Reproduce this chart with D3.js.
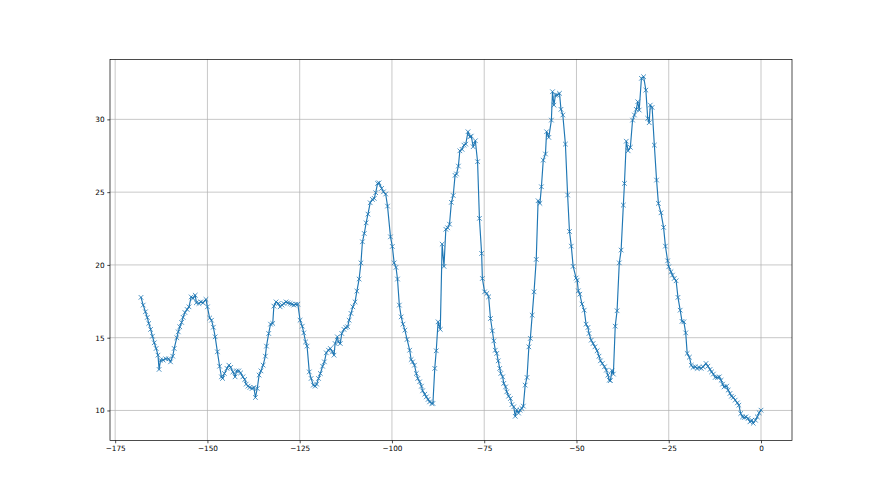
<!DOCTYPE html>
<html><head><meta charset="utf-8">
<script src="https://cdn.jsdelivr.net/npm/d3@7"></script>
<style>html,body{margin:0;padding:0;background:#fff}svg{display:block}</style>
</head><body><svg id="chart" width="880" height="495"></svg>
<script>
const hours = [
-168.0,-167.4,-166.8,-166.3,-165.9,-165.4,-164.9,-164.4,-163.9,-163.4,-163.1,-162.7,-162.0,-161.3,-160.5,-160.0,-159.4,-159.0,-158.3,-157.9,-157.5,-157.0,-156.6,-156.1,-155.5,-155.0,-154.4,-153.9,-153.3,-153.0,-152.3,-151.8,-151.2,-150.4,-150.0,
-149.4,-148.9,-148.4,-147.9,-147.3,-146.7,-146.2,-145.9,-145.4,-144.7,-144.2,-143.7,-143.1,-142.5,-142.1,-141.5,-141.0,-140.4,-139.9,-139.5,-139.0,-138.5,-137.9,-137.4,-137.0,-136.5,-136.0,-135.5,-134.9,-134.3,-134.0,-133.4,-132.9,-132.3,-132.0,-131.4,-130.8,-130.3,-129.8,-129.3,-128.7,-128.2,-127.6,-127.1,-126.6,-126.0,-125.5,
-124.9,-124.3,-123.9,-123.4,-123.0,-122.4,-121.9,-121.3,-120.8,-120.4,-119.9,-119.4,-118.8,-118.3,-117.8,-117.2,-116.7,-116.1,-115.7,-115.4,-114.8,-114.5,-114.0,-113.6,-113.0,-112.5,-112.0,-111.6,-111.1,-110.6,-110.0,-109.5,-108.9,
-108.4,-108.0,-107.5,-107.0,-106.5,-105.9,-105.3,-104.8,-104.4,-103.9,-103.5,-102.8,-102.3,-101.7,-101.2,-100.4,-99.9,-99.4,-98.9,-98.5,-98.0,-97.5,-97.0,-96.5,-95.9,-95.2,-94.8,-94.4,-93.9,-93.4,-93.0,-92.5,-92.0,-91.7,-91.1,-90.7,-90.2,-89.8,-89.2,-88.9,-88.4,-88.0,-87.5,-86.9,-86.4,-85.9,-85.4,-84.9,-84.4,-83.9,-83.4,-82.9,-82.5,-82.0,-81.6,-81.0,-80.5,-80.0,-79.4,-78.9,-78.5,-78.0,-77.4,-76.8,-76.3,-75.7,-75.5,-74.9,-74.3,-73.8,-73.3,-72.8,-72.4,-72.0,-71.6,-71.2,-70.8,-70.5,-70.0,-69.7,-69.2,-68.9,-68.4,-67.9,-67.5,-67.0,-66.6,-66.2,-65.7,-65.3,-64.8,-64.4,
-63.9,-63.4,-62.9,-62.5,-62.0,-61.5,-60.9,-60.4,-59.9,-59.5,-59.0,-58.4,-58.1,-57.5,-56.8,-56.5,-56.1,-55.7,-55.2,-54.6,-54.2,-53.7,-53.0,-52.4,-51.9,-51.4,-50.9,-50.1,-49.8,-49.5,-49.1,-48.5,-47.9,-47.4,-46.9,-46.6,-46.0,-45.5,-45.0,-44.4,-43.9,-43.5,-43.0,-42.4,-41.9,-41.5,-41.1,
-40.8,-40.4,-40.0,-39.5,-39.0,-38.4,-37.9,-37.3,-37.0,-36.5,-36.0,-35.4,-34.8,-34.3,-33.8,-33.4,-33.0,-32.4,-31.8,-31.2,-30.7,-30.3,-30.0,-29.5,-28.9,-28.3,-27.8,-27.1,-26.4,-25.9,-25.3,-25.0,-24.4,-24.0,-23.5,-23.0,-22.5,-21.9,-21.4,-20.9,-20.4,-20.0,-19.4,-18.9,-18.4,-17.8,-17.3,-16.8,-16.2,-15.7,-14.9,-14.4,-13.8,-13.4,-12.9,-12.4,-11.8,-11.3,-10.8,-10.4,-10.0,-9.3,-8.9,-8.4,-8.0,-7.5,-7.0,-6.4,-6.0,-5.5,-5.0,-4.5,-4.1,-3.5,-3.0,-2.5,-2.1,-1.5,-1.0,-0.5,0.0
];
const values = [
17.77,17.24,16.78,16.39,15.98,15.57,15.10,14.65,14.26,13.80,12.82,13.46,13.46,13.55,13.55,13.34,13.73,14.26,15.00,15.40,15.75,16.05,16.40,16.73,16.94,17.12,17.80,17.70,17.92,17.40,17.35,17.46,17.40,17.63,17.12,
16.35,16.20,15.72,15.06,14.03,13.04,12.31,12.20,12.54,12.89,13.11,12.96,12.65,12.31,12.72,12.72,12.58,12.31,12.13,11.81,11.67,11.58,11.51,11.58,10.89,11.51,12.43,12.72,13.11,13.73,14.42,15.29,15.93,15.98,17.17,17.46,17.35,17.12,17.24,17.35,17.46,17.40,17.35,17.30,17.24,17.30,17.30,
16.20,15.79,15.33,14.71,14.42,12.65,12.20,11.74,11.67,11.81,12.20,12.54,13.04,13.34,13.96,14.14,14.26,14.03,13.80,14.60,15.06,14.71,14.60,15.29,15.57,15.70,15.75,16.20,16.67,17.12,17.46,18.20,19.03,
20.14,21.59,22.16,22.89,23.49,24.27,24.50,24.57,24.96,25.60,25.64,25.26,25.02,24.87,24.04,21.93,21.27,20.14,19.83,19.03,17.24,16.43,15.93,15.52,14.88,14.14,13.50,13.34,13.11,12.54,12.20,11.97,11.67,11.35,11.12,10.93,10.76,10.59,10.48,10.48,12.89,14.10,16.09,15.57,21.43,19.90,22.45,22.55,22.80,24.30,24.77,26.15,26.25,26.79,27.84,27.94,28.23,28.30,29.15,28.80,28.85,28.12,28.53,27.09,23.20,20.79,19.07,18.15,18.04,17.81,16.32,15.47,14.78,14.14,13.92,13.41,12.89,12.54,12.31,11.86,11.62,11.28,10.98,10.82,10.40,10.25,9.60,10.04,9.82,10.02,10.14,10.30,
11.74,12.27,14.37,14.95,16.55,18.15,20.38,24.41,24.23,25.37,27.20,27.62,29.15,28.76,29.95,31.90,30.98,31.67,31.67,31.79,30.69,30.30,28.30,24.80,22.30,21.29,19.90,19.10,18.95,18.22,17.99,17.31,16.89,15.93,15.70,15.29,14.83,14.60,14.37,14.10,13.73,13.41,13.23,13.00,12.77,12.43,12.08,
12.05,12.75,12.50,15.79,16.85,20.14,21.02,24.11,25.60,28.50,27.84,28.08,29.95,30.30,30.69,31.21,30.64,32.82,32.93,32.01,30.07,29.77,30.98,30.82,28.23,25.83,24.23,23.58,22.58,21.29,20.28,19.87,19.53,19.30,19.07,18.91,17.77,16.89,16.12,16.09,15.33,13.92,13.66,13.11,12.96,13.00,12.89,12.96,12.89,13.00,13.23,13.04,12.82,12.65,12.50,12.27,12.27,12.31,12.08,11.81,11.62,11.67,11.40,11.17,10.98,10.89,10.71,10.52,10.36,9.79,9.56,9.52,9.56,9.45,9.22,9.33,9.12,9.33,9.56,9.84,10.02
];
const xTicks = [-175,-150,-125,-100,-75,-50,-25,0];
const yTicks = [10,15,20,25,30];

(function(){
const W = 880, H = 495;
const pL = 110, pR = 792, pT = 59.4, pB = 440.6;
const color = "#1f77b4";

const data = hours.map((h,i)=>({h, v: values[i]}));
function padded(ext){ const m=(ext[1]-ext[0])*0.05; return [ext[0]-m, ext[1]+m]; }
const x = d3.scaleLinear().domain(padded(d3.extent(hours))).range([pL,pR]);
const y = d3.scaleLinear().domain(padded(d3.extent(values))).range([pB,pT]);

const svg = d3.select("#chart");
svg.append("rect").attr("width",W).attr("height",H).attr("fill","#fff");

const fmt = d => d < 0 ? "\u2212" + Math.abs(d) : String(d);
const font = "DejaVu Sans, sans-serif";

const grid = svg.append("g");
grid.selectAll(".gx").data(xTicks).join("line").attr("class","gx")
  .attr("x1",d=>x(d)).attr("x2",d=>x(d)).attr("y1",pT).attr("y2",pB)
  .attr("stroke","#b0b0b0").attr("stroke-width",0.7);
grid.selectAll(".gy").data(yTicks).join("line").attr("class","gy")
  .attr("y1",d=>y(d)).attr("y2",d=>y(d)).attr("x1",pL).attr("x2",pR)
  .attr("stroke","#b0b0b0").attr("stroke-width",0.7);

const line = d3.line().x(d=>x(d.h)).y(d=>y(d.v));
svg.append("path").datum(data).attr("d",line)
  .attr("fill","none").attr("stroke",color).attr("stroke-width",1.15)
  .attr("stroke-linejoin","round").attr("stroke-linecap","square");

const s = 2.3;
svg.append("g").selectAll("path").data(data).join("path")
  .attr("d",d=>{const cx=x(d.h), cy=y(d.v);
    return `M${cx-s},${cy-s}L${cx+s},${cy+s}M${cx-s},${cy+s}L${cx+s},${cy-s}`;})
  .attr("stroke",color).attr("stroke-width",0.8).attr("fill","none");

const xAxis = d3.axisBottom(x).tickValues(xTicks).tickFormat(fmt).tickSize(2.7).tickPadding(2.7);
const yAxis = d3.axisLeft(y).tickValues(yTicks).tickFormat(fmt).tickSize(2.7).tickPadding(2.7);
const gx = svg.append("g").attr("transform",`translate(0,${pB})`).call(xAxis);
const gy = svg.append("g").attr("transform",`translate(${pL},0)`).call(yAxis);
[gx,gy].forEach(g=>{
  g.select(".domain").remove();
  g.selectAll(".tick line").attr("stroke","#000").attr("stroke-width",0.7);
  g.selectAll(".tick text").attr("fill","#000").attr("font-family",font).attr("font-size",7.3);
});

svg.append("rect").attr("x",pL).attr("y",pT).attr("width",pR-pL).attr("height",pB-pT)
  .attr("fill","none").attr("stroke","#000").attr("stroke-width",0.7);
})();
</script></body></html>
